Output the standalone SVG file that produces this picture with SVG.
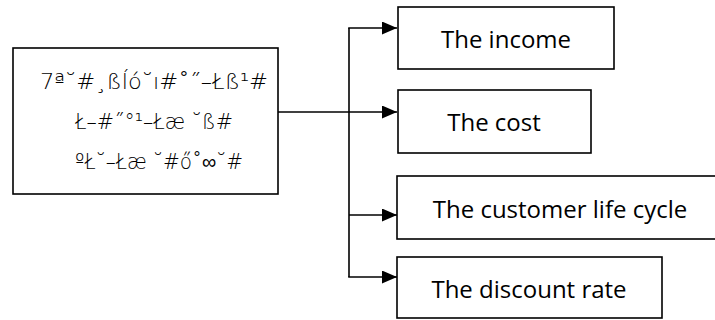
<svg xmlns="http://www.w3.org/2000/svg" width="715" height="320" viewBox="0 0 715 320">
<style>
.box{fill:#fff;stroke:#000;stroke-width:1.6}
.lbl{font-family:"Open Sans","Liberation Sans",sans-serif;font-size:24px;fill:#000;text-anchor:middle}
.garb{font-family:"DejaVu Sans","Liberation Sans",sans-serif;font-size:21px;font-weight:300;fill:#000;text-anchor:middle}
.con{fill:none;stroke:#000;stroke-width:1.6}
</style>
<defs>
<marker id="ah" markerWidth="15" markerHeight="13" refX="15" refY="6.5" orient="auto" markerUnits="userSpaceOnUse">
<path d="M0,0 L15,6.5 L0,13 Z" fill="#000"/>
</marker>
</defs>
<g id="source">
<rect class="box" x="13" y="48" width="265" height="146"/>
<text class="garb" x="154" y="89" textLength="228" lengthAdjust="spacingAndGlyphs">7ª˘#¸ßĺó˘ı#˚˝–Łß¹#</text>
<text class="garb" x="154" y="129" textLength="158" lengthAdjust="spacingAndGlyphs">Ł–#˝°¹–Łæ ˘ß#</text>
<text class="garb" x="159" y="169" textLength="168" lengthAdjust="spacingAndGlyphs">ºŁ˘–Łæ ˘#ő˚∞˘#</text>
</g>
<g id="connectors">
<line class="con" x1="278" y1="112" x2="397" y2="112" marker-end="url(#ah)"/>
<line class="con" x1="349" y1="28" x2="349" y2="277"/>
<line class="con" x1="348.2" y1="28" x2="397" y2="28" marker-end="url(#ah)"/>
<line class="con" x1="349" y1="215" x2="397" y2="215" marker-end="url(#ah)"/>
<line class="con" x1="348.2" y1="277" x2="397" y2="277" marker-end="url(#ah)"/>
</g>
<g id="income">
<rect class="box" x="398" y="7" width="216" height="62"/>
<text class="lbl" x="506" y="48">The income</text>
</g>
<g id="cost">
<rect class="box" x="398" y="90" width="193" height="63"/>
<text class="lbl" x="494" y="131">The cost</text>
</g>
<g id="customer">
<rect class="box" x="397" y="176" width="330" height="63"/>
<text class="lbl" x="560" y="218">The customer life cycle</text>
</g>
<g id="discount">
<rect class="box" x="397" y="257" width="265" height="61"/>
<text class="lbl" x="529" y="298">The discount rate</text>
</g>
</svg>
